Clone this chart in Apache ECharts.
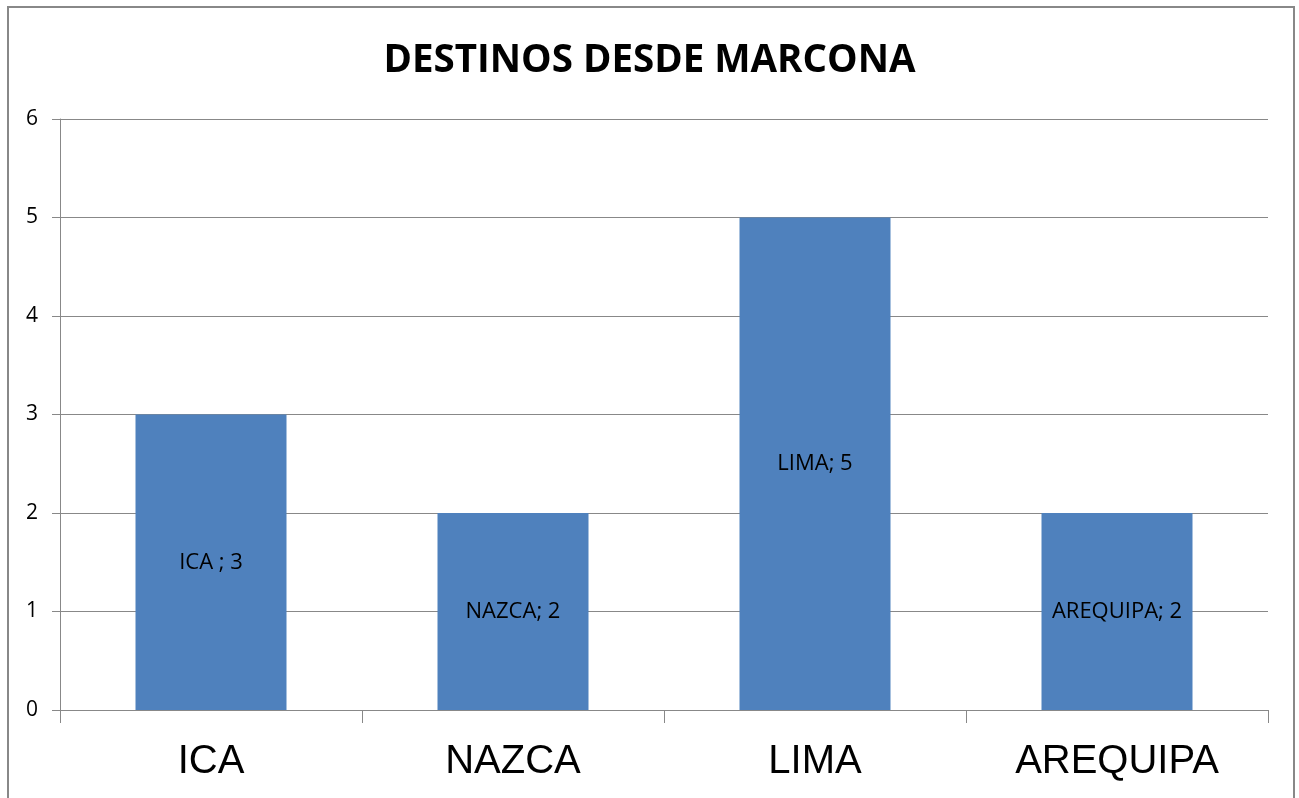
<!DOCTYPE html>
<html>
<head>
<meta charset="utf-8">
<script src="https://cdn.jsdelivr.net/npm/echarts@6/dist/echarts.min.js"></script>
<style>
  html, body { margin: 0; padding: 0; background: #fff; }
  #chart { width: 1299px; height: 798px; }
</style>
</head>
<body>
<div id="chart"></div>
<script>
var categories = ['ICA', 'NAZCA', 'LIMA', 'AREQUIPA'];
var values = [3, 2, 5, 2];
var labelSep = ['ICA ; ', 'NAZCA; ', 'LIMA; ', 'AREQUIPA; '];

var chart = echarts.init(document.getElementById('chart'));

var option = {
  backgroundColor: '#fff',
  animation: false,
  title: {
    text: 'DESTINOS DESDE MARCONA',
    left: 'center',
    top: 37,
    textStyle: {
      fontFamily: 'Open Sans',
      fontWeight: 'bold',
      fontSize: 38.5,
      color: '#000'
    }
  },
  graphic: [{
    type: 'rect',
    shape: { x: 8, y: 7, width: 1286, height: 810 },
    style: { fill: 'none', stroke: '#888', lineWidth: 2 },
    silent: true
  }],
  grid: { left: 60, right: 31, top: 119, bottom: 88 },
  xAxis: {
    type: 'category',
    data: categories,
    axisLine: { lineStyle: { color: '#888', width: 1 } },
    axisTick: { show: true, length: 13, lineStyle: { color: '#888' } },
    axisLabel: {
      fontFamily: 'Liberation Sans',
      fontSize: 40,
      color: '#000',
      margin: 32
    }
  },
  yAxis: {
    type: 'value',
    min: 0,
    max: 6,
    interval: 1,
    axisLine: { show: true, lineStyle: { color: '#888', width: 1 } },
    axisTick: { show: true, length: 8, lineStyle: { color: '#888' } },
    splitLine: { lineStyle: { color: '#888', width: 1 } },
    axisLabel: {
      fontFamily: 'Open Sans',
      fontSize: 21,
      color: '#000',
      margin: 22
    }
  },
  series: [{
    type: 'bar',
    data: values,
    barWidth: '50%',
    itemStyle: { color: '#4F81BD' },
    label: {
      show: true,
      position: 'inside',
      fontFamily: 'Open Sans',
      fontSize: 22,
      color: '#000',
      formatter: function (p) {
        return labelSep[p.dataIndex] + p.value;
      }
    }
  }]
};

chart.setOption(option);
</script>
</body>
</html>
